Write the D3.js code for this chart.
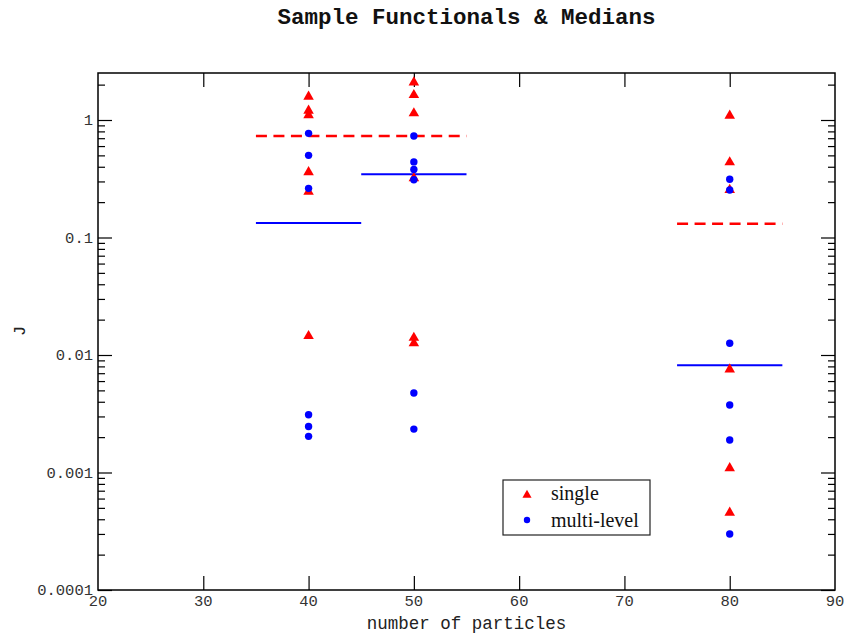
<!DOCTYPE html>
<html><head><meta charset="utf-8">
<script src="https://cdn.jsdelivr.net/npm/d3@7"></script>
<style>body{margin:0;background:#fff}svg{display:block}</style>
</head><body>
<svg id="c" width="848" height="634"></svg>
<script>
const xTicks = [20,30,40,50,60,70,80,90];
const yTicks = [1e-4,1e-3,1e-2,1e-1,1];
const yTickLabels = ["0.0001","0.001","0.01","0.1","1"];

const singleX40 = [1.58,1.2,1.1,0.36,0.245,0.0145];
const singleX50 = [2.09,1.63,1.14,0.32,0.014,0.0126];
const singleX80 = [1.09,0.437,0.254,0.00755,0.00109,0.000455];
const multiX40 = [0.77,0.50,0.262,0.0031,0.00246,0.00203];
const multiX50 = [0.73,0.44,0.38,0.31,0.00475,0.00234];
const multiX80 = [0.313,0.254,0.0126,0.00375,0.00189,0.0003];

const medianParticles = [40,50,80];
const singleMedians = [0.73,0.73,0.131];
const multiMedians = [0.133,0.345,0.0082];

const svg = d3.select("#c");
const L=98,R=835,T=73,B=590;
const x = d3.scaleLinear().domain([20,90]).range([L,R]);
const y = d3.scaleLog().domain([1e-4,Math.pow(10,0.4)]).range([B,T]);
const mono = "'Liberation Mono','DejaVu Sans Mono',monospace";

const minor=[];
for(let e=-4;e<=0;e++){for(let k=2;k<=9;k++){const v=k*Math.pow(10,e); if(v<=y.domain()[1]) minor.push(v);}}

const g = svg.append("g");
const left = g.append("g").attr("transform",`translate(${L},0)`)
  .call(d3.axisRight(y).tickValues(yTicks).tickSize(14).tickFormat(""));
left.append("g").call(d3.axisRight(y).tickValues(minor).tickSize(7).tickFormat(""));
const right = g.append("g").attr("transform",`translate(${R},0)`)
  .call(d3.axisLeft(y).tickValues(yTicks).tickSize(14).tickFormat(""));
right.append("g").call(d3.axisLeft(y).tickValues(minor).tickSize(7).tickFormat(""));
g.append("g").attr("transform",`translate(0,${B})`)
  .call(d3.axisTop(x).tickValues(xTicks.slice(1,-1)).tickSize(14).tickFormat(""));
g.append("g").attr("transform",`translate(0,${T})`)
  .call(d3.axisBottom(x).tickValues(xTicks.slice(1,-1)).tickSize(14).tickFormat(""));
g.selectAll(".domain").remove();
g.selectAll(".tick line").attr("stroke","#000").attr("stroke-width",1.2);

svg.append("rect").attr("x",L).attr("y",T).attr("width",R-L).attr("height",B-T)
  .attr("fill","none").attr("stroke","#000").attr("stroke-width",1.5);

svg.append("g").selectAll("text").data(yTicks).join("text")
  .attr("x",L-5).attr("y",d=>y(d)+5).attr("text-anchor","end")
  .attr("font-family",mono).attr("font-size",15.5).attr("fill","#333")
  .text((d,i)=>yTickLabels[i]);
svg.append("g").selectAll("text").data(xTicks).join("text")
  .attr("x",d=>x(d)).attr("y",B+16).attr("text-anchor","middle")
  .attr("font-family",mono).attr("font-size",15.5).attr("fill","#333")
  .text(d=>d);

svg.append("text").attr("x",(L+R)/2).attr("y",629).attr("text-anchor","middle")
  .attr("font-family",mono).attr("font-size",17.5).attr("fill","#222").text("number of particles");
svg.append("text").attr("transform",`translate(25,331) rotate(-90)`).attr("text-anchor","middle")
  .attr("font-family",mono).attr("font-size",17).attr("fill","#222").text("J");
svg.append("text").attr("x",(L+R)/2).attr("y",24).attr("text-anchor","middle")
  .attr("font-family",mono).attr("font-weight","bold").attr("font-size",22.5).attr("fill","#111")
  .text("Sample Functionals & Medians");

svg.append("g").selectAll("line").data(medianParticles).join("line")
  .attr("x1",d=>x(d-5)).attr("x2",d=>x(d+5))
  .attr("y1",(d,i)=>y(singleMedians[i])).attr("y2",(d,i)=>y(singleMedians[i]))
  .attr("stroke","#ff0000").attr("stroke-width",2.5).attr("stroke-dasharray","11,6.5");
svg.append("g").selectAll("line").data(medianParticles).join("line")
  .attr("x1",d=>x(d-5)).attr("x2",d=>x(d+5))
  .attr("y1",(d,i)=>y(multiMedians[i])).attr("y2",(d,i)=>y(multiMedians[i]))
  .attr("stroke","#0000ff").attr("stroke-width",2);

const singles = [[40,singleX40],[50,singleX50],[80,singleX80]].flatMap(([p,a])=>a.map(v=>({p,v})));
const multis = [[40,multiX40],[50,multiX50],[80,multiX80]].flatMap(([p,a])=>a.map(v=>({p,v})));
const tri = d3.symbol().type(d3.symbolTriangle).size(48);
svg.append("g").selectAll("path").data(singles).join("path")
  .attr("d",tri).attr("transform",d=>`translate(${x(d.p)},${y(d.v)})`).attr("fill","#ff0000");
svg.append("g").selectAll("circle").data(multis).join("circle")
  .attr("cx",d=>x(d.p)).attr("cy",d=>y(d.v)).attr("r",3.7).attr("fill","#0000ff");

const lg = svg.append("g");
lg.append("rect").attr("x",503).attr("y",480).attr("width",147).attr("height",55)
  .attr("fill","#fff").attr("stroke","#222").attr("stroke-width",1.2);
lg.append("path").attr("d",d3.symbol().type(d3.symbolTriangle).size(36)).attr("transform","translate(527,495)").attr("fill","#ff0000");
lg.append("circle").attr("cx",527).attr("cy",520).attr("r",3.2).attr("fill","#0000ff");
lg.append("text").attr("x",551).attr("y",500).attr("font-family","'Liberation Serif','Times New Roman',serif")
  .attr("font-size",20).attr("fill","#111").text("single");
lg.append("text").attr("x",551).attr("y",527).attr("font-family","'Liberation Serif','Times New Roman',serif")
  .attr("font-size",20).attr("fill","#111").text("multi-level");
</script>
</body></html>
